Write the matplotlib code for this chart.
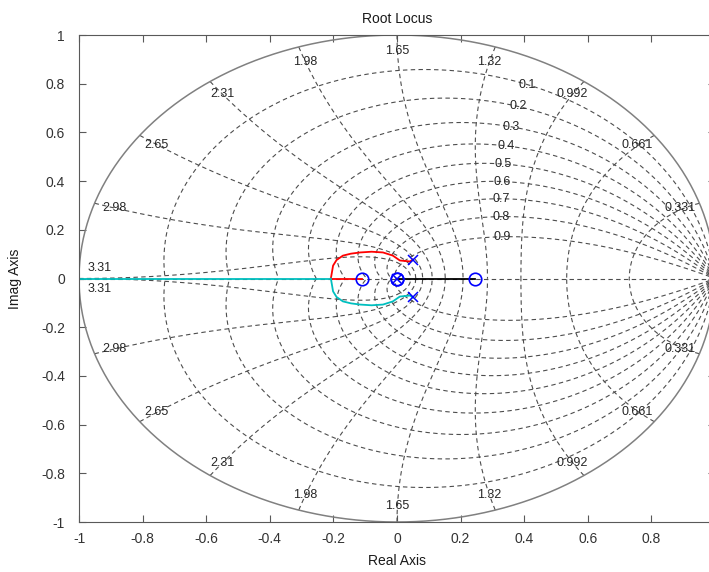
import matplotlib.pyplot as plt
import numpy as np

# damping ratios and natural frequency labels of the z-plane grid
zetas = [0.1, 0.2, 0.3, 0.4, 0.5, 0.6, 0.7, 0.8, 0.9]
wn_labels = ['0.331', '0.661', '0.992', '1.32', '1.65', '1.98', '2.31', '2.65', '2.98', '3.31']

# open-loop poles and zeros
pole_re = [0.05, 0.05, 0.0]
pole_im = [0.078, -0.078, 0.0]
zero_re = [-0.111, 0.0, 0.0, 0.245]
zero_im = [0.0, 0.0, 0.0, 0.0]

# complex branch (upper half), lower half is its mirror
branch_re = [0.05, 0.041, 0.009, -0.013, -0.044, -0.080, -0.116, -0.145, -0.170, -0.190, -0.201, -0.208]
branch_im = [0.078, 0.070, 0.074, 0.094, 0.107, 0.110, 0.107, 0.102, 0.094, 0.076, 0.053, 0.0]
red_axis_re = [-0.208, -0.111]
cyan_axis_re = [-0.208, -1.0]
black_axis_re = [0.0, 0.245]

grid_kw = dict(color='0.3', lw=0.8, ls=(0, (4, 3)))
txt_kw = dict(fontsize=9, ha='center', va='center', family='Liberation Sans', color='0.15')

fig = plt.figure(figsize=(7.09, 5.72), dpi=100)
ax = fig.add_axes([79 / 709, 0.0874, 636 / 709, 0.8514])

# damping ratio curves
th = np.linspace(0, np.pi, 300)
for z in zetas:
    m = z / np.sqrt(1 - z ** 2)
    r = np.exp(-m * th)
    ax.plot(r * np.cos(th), r * np.sin(th), **grid_kw)
    ax.plot(r * np.cos(th), -r * np.sin(th), **grid_kw)
    wt = 1.1
    ang = wt * np.sqrt(1 - z ** 2)
    rr = np.exp(-z * wt)
    ax.text(rr * np.cos(ang), rr * np.sin(ang), '%g' % z, **txt_kw)

# natural frequency curves
zz = np.linspace(0, 1, 200)
for k, lab in enumerate(wn_labels, start=1):
    wt = k * np.pi / 10
    r = np.exp(-zz * wt)
    ang = wt * np.sqrt(1 - zz ** 2)
    ax.plot(r * np.cos(ang), r * np.sin(ang), **grid_kw)
    ax.plot(r * np.cos(ang), -r * np.sin(ang), **grid_kw)
    rl = 0.935
    yl = rl * np.sin(wt) if k < 10 else 0.045
    ax.text(rl * np.cos(wt), yl, lab, **txt_kw)
    ax.text(rl * np.cos(wt), -yl, lab, **txt_kw)

# real axis dashed line
ax.plot([-1, 1], [0, 0], **grid_kw)

# unit circle
t = np.linspace(0, 2 * np.pi, 400)
ax.plot(np.cos(t), np.sin(t), color='0.5', lw=1.1)

# root locus branches
ax.plot(cyan_axis_re, [0, 0], color='#00bfbf', lw=1.3)
ax.plot(red_axis_re, [0, 0], color='#ff0000', lw=1.3)
ax.plot(black_axis_re, [0, 0], color='black', lw=1.3)
ax.plot(branch_re, branch_im, color='#ff0000', lw=1.3)
ax.plot(branch_re, [-v for v in branch_im], color='#00bfbf', lw=1.3)

ax.plot(pole_re, pole_im, 'x', color='#0000ff', ms=7, mew=1.1)
ax.plot(zero_re, zero_im, 'o', mfc='none', mec='#0000ff', ms=9, mew=1.2)

ax.set_xlim(-1, 1)
ax.set_ylim(-1, 1)
ax.set_xticks(np.arange(-1, 0.81, 0.2))
ax.set_xticklabels(['-1', '-0.8', '-0.6', '-0.4', '-0.2', '0', '0.2', '0.4', '0.6', '0.8'])
ax.set_yticks(np.arange(-1, 1.01, 0.2))
ax.set_yticklabels(['-1', '-0.8', '-0.6', '-0.4', '-0.2', '0', '0.2', '0.4', '0.6', '0.8', '1'])
ax.tick_params(direction='in', length=5, color='0.35', labelsize=10, labelcolor='0.2',
               top=True, right=True)
ax.tick_params(axis='y', pad=10)
ax.tick_params(axis='x', pad=7)
for lbl in ax.get_xticklabels() + ax.get_yticklabels():
    lbl.set_family('Liberation Sans')
for s in ax.spines.values():
    s.set_color('0.35')

ax.set_title('Root Locus', fontsize=10, family='Liberation Sans', color='0.1', pad=9)
ax.set_xlabel('Real Axis', fontsize=10, family='Liberation Sans', color='0.1', labelpad=6)
ax.set_ylabel('Imag Axis', fontsize=10, family='Liberation Sans', color='0.1', labelpad=14)

fig.savefig('out.png', dpi=100)
